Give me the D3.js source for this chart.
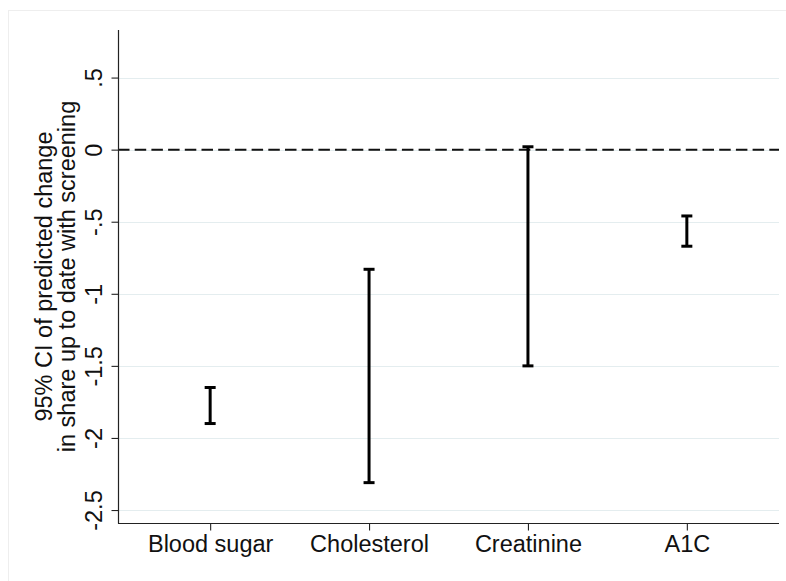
<!DOCTYPE html>
<html>
<head>
<meta charset="utf-8">
<script src="https://cdn.jsdelivr.net/npm/d3@7"></script>
<style>
  html, body { margin: 0; padding: 0; background: #fff; }
  svg { display: block; font-family: "Liberation Sans", Arial, Helvetica, sans-serif; }
</style>
</head>
<body>
<svg id="chart" width="786" height="581"></svg>
<script>
// ---- data ----
const categories = ["Blood sugar", "Cholesterol", "Creatinine", "A1C"];
const ciLower = [-1.90, -2.31, -1.50, -0.67];
const ciUpper = [-1.65, -0.83, 0.02, -0.46];
const yTickValues = [-2.5, -2, -1.5, -1, -0.5, 0, 0.5];
const yTickLabels = ["-2.5", "-2", "-1.5", "-1", "-.5", "0", ".5"];
const yTitleLines = ["95% CI of predicted change", "in share up to date with screening"];

// ---- layout ----
const W = 786, H = 581;
const plot = { left: 118, right: 779, top: 30, bottom: 523 };
const FONT = 23.5;

const svg = d3.select("#chart");

// faint outer graph-region border
svg.append("line").attr("x1", 8.5).attr("x2", 8.5).attr("y1", 10).attr("y2", H)
  .attr("stroke", "#eeeeee").attr("stroke-width", 1);
svg.append("line").attr("x1", 8).attr("x2", W).attr("y1", 10.5).attr("y2", 10.5)
  .attr("stroke", "#eeeeee").attr("stroke-width", 1);

const x = d3.scaleLinear().domain([0.42, 4.58]).range([plot.left, plot.right]);
const y = d3.scaleLinear().domain([-2.59, 0.83]).range([plot.bottom, plot.top]);

// gridlines
svg.append("g").selectAll("line").data(yTickValues).join("line")
  .attr("x1", plot.left).attr("x2", plot.right)
  .attr("y1", d => Math.round(y(d)) + 0.5).attr("y2", d => Math.round(y(d)) + 0.5)
  .attr("stroke", "#e4edef").attr("stroke-width", 1.2);

// reference line at 0
svg.append("line")
  .attr("x1", plot.left).attr("x2", plot.right)
  .attr("y1", y(0)).attr("y2", y(0))
  .attr("stroke", "#111").attr("stroke-width", 2)
  .attr("stroke-dasharray", "11.5,5.2");

// y axis
const yAxis = d3.axisLeft(y)
  .tickValues(yTickValues)
  .tickFormat((d, i) => yTickLabels[i])
  .tickSize(7).tickSizeOuter(0);
const gy = svg.append("g").attr("transform", `translate(${plot.left + 0.5},0)`).call(yAxis);
gy.select(".domain").remove();
gy.append("line").attr("x1", 0).attr("x2", 0).attr("y1", plot.top).attr("y2", plot.bottom + 0.5)
  .attr("stroke", "#222").attr("stroke-width", 1.2);
gy.selectAll(".tick line").attr("stroke", "#222").attr("stroke-width", 1.1);
gy.selectAll(".tick text")
  .attr("x", 0).attr("dy", 0)
  .attr("transform", "translate(-17,0) rotate(-90)")
  .attr("text-anchor", "middle")
  .attr("fill", "#111")
  .style("font-size", FONT + "px")
  .style("font-family", "'Liberation Sans', Arial, sans-serif");

// x axis
const xAxis = d3.axisBottom(x)
  .tickValues(categories.map((c, i) => i + 1))
  .tickFormat((d, i) => categories[i])
  .tickSize(7).tickSizeOuter(0);
const gx = svg.append("g").attr("transform", `translate(0,${plot.bottom + 0.5})`).call(xAxis);
gx.select(".domain").remove();
gx.append("line").attr("x1", plot.left).attr("x2", plot.right).attr("y1", 0).attr("y2", 0)
  .attr("stroke", "#222").attr("stroke-width", 1.2);
gx.selectAll(".tick line").attr("stroke", "#222").attr("stroke-width", 1.1);
gx.selectAll(".tick text")
  .attr("y", 28.5).attr("dy", 0)
  .attr("fill", "#111")
  .style("font-size", FONT + "px")
  .style("font-family", "'Liberation Sans', Arial, sans-serif");

// y axis title
const tg = svg.append("g");
yTitleLines.forEach((t, i) => {
  tg.append("text")
    .attr("transform", `translate(${52 + i * 23},${(plot.top + plot.bottom) / 2}) rotate(-90)`)
    .attr("text-anchor", "middle")
    .attr("fill", "#111")
    .style("font-size", FONT + "px")
    .text(t);
});

// error bars
const capHalf = 5.5;
const bars = svg.append("g").selectAll("g").data(categories).join("g");
bars.append("line")
  .attr("x1", (d, i) => x(i + 1)).attr("x2", (d, i) => x(i + 1))
  .attr("y1", (d, i) => y(ciLower[i])).attr("y2", (d, i) => y(ciUpper[i]))
  .attr("stroke", "#000").attr("stroke-width", 3);
bars.append("line")
  .attr("x1", (d, i) => x(i + 1) - capHalf).attr("x2", (d, i) => x(i + 1) + capHalf)
  .attr("y1", (d, i) => y(ciLower[i])).attr("y2", (d, i) => y(ciLower[i]))
  .attr("stroke", "#000").attr("stroke-width", 3);
bars.append("line")
  .attr("x1", (d, i) => x(i + 1) - capHalf).attr("x2", (d, i) => x(i + 1) + capHalf)
  .attr("y1", (d, i) => y(ciUpper[i])).attr("y2", (d, i) => y(ciUpper[i]))
  .attr("stroke", "#000").attr("stroke-width", 3);
</script>
</body>
</html>
